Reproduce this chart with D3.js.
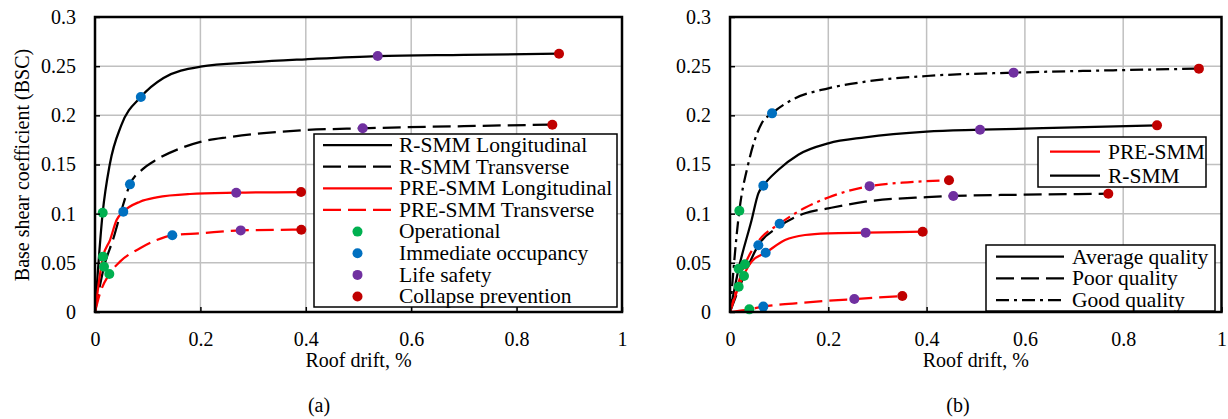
<!DOCTYPE html>
<html>
<head>
<meta charset="utf-8">
<script src="https://cdn.jsdelivr.net/npm/d3@7/dist/d3.min.js"></script>
<style>
  html, body { margin: 0; padding: 0; background: #ffffff; }
  svg { display: block; }
</style>
</head>
<body>
<svg id="chart" width="1228" height="419"></svg>
<script>
// ---------------- DATA ----------------
const xTickValues = [0, 0.2, 0.4, 0.6, 0.8, 1];
const xTickLabels = ["0", "0.2", "0.4", "0.6", "0.8", "1"];
const yTickValues = [0, 0.05, 0.1, 0.15, 0.2, 0.25, 0.3];
const yTickLabels = ["0", "0.05", "0.1", "0.15", "0.2", "0.25", "0.3"];
const levelNames = ["Operational", "Immediate occupancy", "Life safety", "Collapse prevention"];

// Panel (a) curves [roof drift %, BSC]
const curveA_RSMM_Long = [[0,0],[0.0146,0.101],[0.028,0.15],[0.05,0.19],[0.087,0.2187],[0.13,0.238],[0.2,0.2495],[0.3,0.254],[0.4,0.257],[0.5364,0.2603],[0.7,0.2615],[0.8805,0.2627]];
const curveA_RSMM_Trans = [[0,0],[0.0171,0.046],[0.035,0.075],[0.05,0.103],[0.0664,0.1298],[0.09,0.145],[0.117,0.155],[0.16,0.166],[0.2,0.173],[0.256,0.178],[0.4,0.185],[0.508,0.1868],[0.7,0.189],[0.8678,0.1905]];
const curveA_PRE_Long = [[0,0],[0.0152,0.0563],[0.0285,0.0732],[0.041,0.0936],[0.0537,0.102],[0.0854,0.1122],[0.117,0.1166],[0.18,0.12],[0.268,0.1213],[0.391,0.122]];
const curveA_PRE_Trans = [[0,0],[0.0095,0.019],[0.0272,0.0386],[0.0474,0.0512],[0.0854,0.0648],[0.117,0.0732],[0.1467,0.078],[0.199,0.080],[0.2765,0.083],[0.3915,0.0837]];

// Panel (a) performance points: Operational, IO, LS, CP
const pointsA_RSMM_Long = [[0.0146,0.101],[0.087,0.2187],[0.5364,0.2603],[0.8805,0.2627]];
const pointsA_RSMM_Trans = [[0.0171,0.046],[0.0664,0.1298],[0.508,0.1868],[0.8678,0.1905]];
const pointsA_PRE_Long = [[0.0152,0.0563],[0.0537,0.102],[0.268,0.1213],[0.391,0.122]];
const pointsA_PRE_Trans = [[0.0272,0.0386],[0.1467,0.078],[0.2765,0.083],[0.3915,0.0837]];

// Panel (b) curves
const curveB_RSMM_Avg = [[0,0],[0.0176,0.044],[0.044,0.0936],[0.0577,0.1207],[0.0678,0.1285],[0.098,0.1444],[0.139,0.16],[0.2,0.1715],[0.2747,0.1776],[0.4,0.1835],[0.5087,0.1854],[0.7,0.1877],[0.8688,0.1898]];
const curveB_RSMM_Poor = [[0,0],[0.0285,0.0366],[0.0577,0.0678],[0.1004,0.087],[0.1526,0.1004],[0.2,0.1054],[0.2747,0.1122],[0.4,0.1168],[0.4544,0.118],[0.6,0.1193],[0.7697,0.1203]];
const curveB_RSMM_Good = [[0,0],[0.019,0.103],[0.0373,0.151],[0.0645,0.192],[0.0855,0.202],[0.1255,0.2156],[0.2,0.2275],[0.2747,0.2342],[0.4,0.24],[0.577,0.2434],[0.75,0.2455],[0.954,0.2475]];
const curveB_PRE_Avg = [[0,0],[0.0176,0.0257],[0.044,0.0512],[0.0726,0.0603],[0.112,0.0732],[0.1526,0.0783],[0.2,0.080],[0.276,0.0807],[0.392,0.0817]];
const curveB_PRE_Poor = [[0,0],[0.0393,0.0027],[0.0678,0.0055],[0.15,0.0095],[0.253,0.0132],[0.3506,0.0163]];
const curveB_PRE_Good = [[0,0],[0.0305,0.0485],[0.0577,0.072],[0.101,0.0898],[0.1526,0.106],[0.2,0.1165],[0.284,0.128],[0.35,0.1315],[0.4456,0.1339]];

// Panel (b) performance points
const pointsB_RSMM_Avg = [[0.0176,0.044],[0.0678,0.1285],[0.5087,0.1854],[0.8688,0.1898]];
const pointsB_RSMM_Poor = [[0.0285,0.0366],[0.0577,0.0678],[0.4544,0.118],[0.7697,0.1203]];
const pointsB_RSMM_Good = [[0.019,0.103],[0.0855,0.202],[0.577,0.2434],[0.954,0.2475]];
const pointsB_PRE_Avg = [[0.0176,0.0257],[0.0726,0.0603],[0.276,0.0807],[0.392,0.0817]];
const pointsB_PRE_Poor = [[0.0393,0.0027],[0.0678,0.0055],[0.253,0.0132],[0.3506,0.0163]];
const pointsB_PRE_Good = [[0.0305,0.0485],[0.101,0.0898],[0.284,0.128],[0.4456,0.1339]];

const legendA = ["R-SMM Longitudinal", "R-SMM Transverse", "PRE-SMM Longitudinal", "PRE-SMM Transverse"];
const legendB1 = ["PRE-SMM", "R-SMM"];
const legendB2 = ["Average quality", "Poor quality", "Good quality"];

// ---------------- STYLE ----------------
const FONT = "'Liberation Serif','Times New Roman',Times,serif";
const FS = 20;
const FS_LEG = 21.5;
const levelColors = ["#00b050", "#0070c0", "#7030a0", "#c00000"];
const DASH = { solid: null, dash: "18,7", dashdot: "13,5,3,5" };
const BLACK = "#000000", RED = "#ff0000";
const LW = 2.25;

const svg = d3.select("#chart");
svg.append("rect").attr("width", 1228).attr("height", 419).attr("fill", "#fff");

const lineGen = (x, y) => d3.line().x(d => x(d[0])).y(d => y(d[1])).curve(d3.curveMonotoneX);

function drawPanel(cfg) {
  const x = d3.scaleLinear().domain([0, 1]).range([cfg.left, cfg.right]);
  const y = d3.scaleLinear().domain([0, 0.3]).range([312, 17]);
  const g = svg.append("g");

  // gridlines
  g.append("g").selectAll("line").data(xTickValues.slice(1, -1)).join("line")
    .attr("x1", d => x(d)).attr("x2", d => x(d)).attr("y1", y(0)).attr("y2", y(0.3))
    .attr("stroke", "#c0c0c0").attr("stroke-width", 1.5);
  g.append("g").selectAll("line").data(yTickValues.slice(1, -1)).join("line")
    .attr("x1", x(0)).attr("x2", x(1)).attr("y1", d => y(d)).attr("y2", d => y(d))
    .attr("stroke", "#c0c0c0").attr("stroke-width", 1.5);

  // curves
  const lg = lineGen(x, y);
  cfg.curves.forEach(c => {
    g.append("path").datum(c.data).attr("d", lg)
      .attr("fill", "none").attr("stroke", c.color).attr("stroke-width", LW)
      .attr("stroke-dasharray", DASH[c.dash]);
  });
  // markers
  cfg.curves.forEach(c => {
    g.append("g").selectAll("circle").data(c.points).join("circle")
      .attr("cx", d => x(d[0])).attr("cy", d => y(d[1])).attr("r", 5)
      .attr("fill", (d, i) => levelColors[i]);
  });

  // axes (inside ticks)
  const xa = g.append("g").attr("transform", `translate(0,${y(0)})`)
    .call(d3.axisBottom(x).tickValues(xTickValues).tickFormat((d, i) => xTickLabels[i])
      .tickSize(-5).tickPadding(20));
  const ya = g.append("g").attr("transform", `translate(${x(0)},0)`)
    .call(d3.axisLeft(y).tickValues(yTickValues).tickFormat((d, i) => yTickLabels[i])
      .tickSize(-5).tickPadding(19));
  [xa, ya].forEach(a => {
    a.attr("font-family", FONT).attr("font-size", FS);
    a.select(".domain").remove();
    a.selectAll(".tick line").attr("stroke", "#000").attr("stroke-width", 1.5);
    a.selectAll("text").attr("font-family", FONT).attr("font-size", FS).attr("fill", "#000");
  });

  // border
  g.append("rect").attr("x", x(0)).attr("y", y(0.3))
    .attr("width", x(1) - x(0)).attr("height", y(0) - y(0.3))
    .attr("fill", "none").attr("stroke", "#000").attr("stroke-width", 2.5);

  // x title & panel label
  const cx = (x(0) + x(1)) / 2;
  g.append("text").attr("x", cx).attr("y", 367).attr("text-anchor", "middle")
    .attr("font-family", FONT).attr("font-size", FS).text("Roof drift, %");
  g.append("text").attr("x", cfg.labelX).attr("y", 412).attr("text-anchor", "middle")
    .attr("font-family", FONT).attr("font-size", FS).text(cfg.label);

  cfg.legends.forEach(L => {
    const lg2 = g.append("g");
    lg2.append("rect").attr("x", L.x0).attr("y", L.y0).attr("width", L.x1 - L.x0).attr("height", L.y1 - L.y0)
      .attr("fill", "#fff").attr("stroke", "#000").attr("stroke-width", 1.5);
    L.items.forEach((it, i) => {
      const yy = L.yStart + i * L.step;
      if (it.marker) {
        lg2.append("circle").attr("cx", (L.lx0 + L.lx1) / 2).attr("cy", yy).attr("r", 5).attr("fill", it.marker);
      } else {
        lg2.append("line").attr("x1", L.lx0).attr("x2", L.lx1).attr("y1", yy).attr("y2", yy)
          .attr("stroke", it.color).attr("stroke-width", LW).attr("stroke-dasharray", DASH[it.dash]);
      }
      lg2.append("text").attr("x", L.tx).attr("y", yy).attr("dy", "0.32em")
        .attr("font-family", FONT).attr("font-size", FS_LEG).text(it.text);
    });
  });
}

// Y axis title (panel a)
svg.append("text").attr("transform", "translate(22,165) rotate(-90)")
  .attr("text-anchor", "middle").attr("dy", "0.33em")
  .attr("font-family", FONT).attr("font-size", FS).text("Base shear coefficient (BSC)");

drawPanel({
  left: 95, right: 622, label: "(a)", labelX: 319,
  curves: [
    { data: curveA_RSMM_Long, points: pointsA_RSMM_Long, color: BLACK, dash: "solid" },
    { data: curveA_RSMM_Trans, points: pointsA_RSMM_Trans, color: BLACK, dash: "dash" },
    { data: curveA_PRE_Long, points: pointsA_PRE_Long, color: RED, dash: "solid" },
    { data: curveA_PRE_Trans, points: pointsA_PRE_Trans, color: RED, dash: "dash" }
  ],
  legends: [{
    x0: 314, x1: 617, y0: 134, y1: 307, lx0: 323, lx1: 392, tx: 399, yStart: 145, step: 21.65,
    items: [
      { text: legendA[0], color: BLACK, dash: "solid" },
      { text: legendA[1], color: BLACK, dash: "dash" },
      { text: legendA[2], color: RED, dash: "solid" },
      { text: legendA[3], color: RED, dash: "dash" },
      { text: levelNames[0], marker: levelColors[0] },
      { text: levelNames[1], marker: levelColors[1] },
      { text: levelNames[2], marker: levelColors[2] },
      { text: levelNames[3], marker: levelColors[3] }
    ]
  }]
});

drawPanel({
  left: 730, right: 1221.5, label: "(b)", labelX: 958,
  curves: [
    { data: curveB_RSMM_Avg, points: pointsB_RSMM_Avg, color: BLACK, dash: "solid" },
    { data: curveB_RSMM_Poor, points: pointsB_RSMM_Poor, color: BLACK, dash: "dash" },
    { data: curveB_RSMM_Good, points: pointsB_RSMM_Good, color: BLACK, dash: "dashdot" },
    { data: curveB_PRE_Avg, points: pointsB_PRE_Avg, color: RED, dash: "solid" },
    { data: curveB_PRE_Poor, points: pointsB_PRE_Poor, color: RED, dash: "dash" },
    { data: curveB_PRE_Good, points: pointsB_PRE_Good, color: RED, dash: "dashdot" }
  ],
  legends: [{
    x0: 1038, x1: 1206, y0: 137, y1: 187, lx0: 1050, lx1: 1100, tx: 1108, yStart: 151.7, step: 24,
    items: [
      { text: legendB1[0], color: RED, dash: "solid" },
      { text: legendB1[1], color: BLACK, dash: "solid" }
    ]
  }, {
    x0: 986, x1: 1215, y0: 245, y1: 311, lx0: 996, lx1: 1064, tx: 1072, yStart: 256.7, step: 21.65,
    items: [
      { text: legendB2[0], color: BLACK, dash: "solid" },
      { text: legendB2[1], color: BLACK, dash: "dash" },
      { text: legendB2[2], color: BLACK, dash: "dashdot" }
    ]
  }]
});
</script>
</body>
</html>
